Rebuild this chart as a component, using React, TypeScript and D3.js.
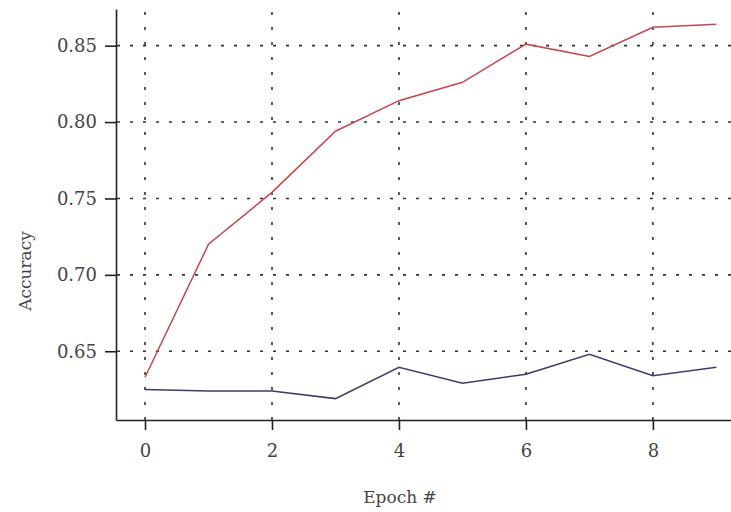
import React, { useRef, useEffect } from "react";
import { select, scaleLinear, line, axisLeft, axisBottom } from "d3";

// values
const epochs = [0, 1, 2, 3, 4, 5, 6, 7, 8, 9];
const trainAcc = [0.633, 0.72, 0.754, 0.794, 0.814, 0.826, 0.851, 0.843, 0.862, 0.864];
const valAcc = [0.625, 0.624, 0.624, 0.619, 0.6395, 0.629, 0.635, 0.648, 0.634, 0.6395];
const xTicks = [0, 2, 4, 6, 8];
const yTicks = [0.65, 0.7, 0.75, 0.8, 0.85];

const W = 731;
const H = 512;

const App = () => {
  const svgRef = useRef<SVGSVGElement>(null);

  const xScale = scaleLinear().domain([-0.457, 9.23]).range([116, 731]);
  const yScale = scaleLinear().domain([0.605, 0.874]).range([420, 9]);

  useEffect(() => {
    const svg = select(svgRef.current);

    const yAxis = axisLeft(yScale)
      .tickValues(yTicks)
      .tickFormat((d: any) => Number(d).toFixed(2))
      .tickSize(11)
      .tickPadding(8)
      .tickSizeOuter(0);
    const gy = svg.select<SVGGElement>(".y-axis").attr("transform", "translate(116,0)").call(yAxis);
    gy.select(".domain").attr("stroke", "#222").attr("stroke-width", 1.6);
    gy.selectAll(".tick line").attr("stroke", "#222").attr("stroke-width", 1.6);
    gy.selectAll(".tick text")
      .attr("font-family", "DejaVu Serif")
      .attr("font-size", 18)
      .attr("fill", "#444");

    const xAxis = axisBottom(xScale).tickValues(xTicks).tickSize(10).tickPadding(14).tickSizeOuter(0);
    const gx = svg.select<SVGGElement>(".x-axis").attr("transform", "translate(0,420)").call(xAxis);
    gx.select(".domain").attr("stroke", "#222").attr("stroke-width", 1.6);
    gx.selectAll(".tick line").attr("stroke", "#222").attr("stroke-width", 1.6);
    gx.selectAll(".tick text")
      .attr("font-family", "DejaVu Serif")
      .attr("font-size", 18)
      .attr("fill", "#444");
  }, []);

  const trainLine = line<number>()
    .x((_, i) => xScale(epochs[i]))
    .y((v) => yScale(v));

  return (
    <svg ref={svgRef} width={W} height={H} style={{ position: "absolute", left: 0, top: 0, background: "#fff" }}>
      {/* grid */}
      {xTicks.map((t) => (
        <line key={"gx" + t} x1={xScale(t)} x2={xScale(t)} y1={12} y2={420}
          stroke="#333" strokeWidth={1.6} strokeDasharray="3,12" />
      ))}
      {yTicks.map((t) => (
        <line key={"gy" + t} x1={117} x2={731} y1={yScale(t)} y2={yScale(t)}
          stroke="#333" strokeWidth={1.6} strokeDasharray="3,10" />
      ))}
      <path d={trainLine(trainAcc) || ""} fill="none" stroke="#c9464d" strokeWidth={1.5} />
      <path d={trainLine(valAcc) || ""} fill="none" stroke="#3a3d68" strokeWidth={1.5} />
      <g className="y-axis" />
      <g className="x-axis" />
      <text x={400} y={503} textAnchor="middle" fontFamily="DejaVu Serif" fontSize={17} fill="#444">Epoch #</text>
      <text transform="translate(31,271) rotate(-90)" textAnchor="middle" fontFamily="DejaVu Serif" fontSize={17} fill="#444">Accuracy</text>
    </svg>
  );
};

export default App;
